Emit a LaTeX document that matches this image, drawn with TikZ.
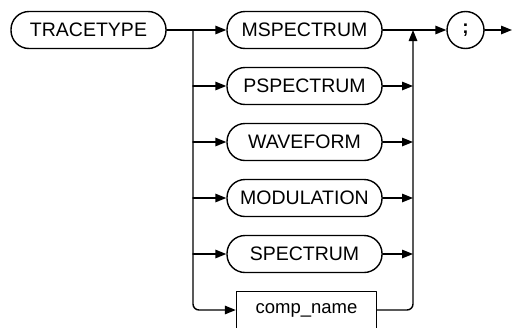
\documentclass[tikz,border=0pt]{standalone}
\usepackage{fontspec}
\setsansfont{Liberation Sans}
\usetikzlibrary{arrows.meta,positioning}

\begin{document}
\begin{tikzpicture}[x=1pt, y=-1pt, line width=1.4pt, line cap=round, line join=round,
    kw/.style={draw, rounded corners=18pt, minimum width=155pt, minimum height=37pt,
      inner sep=0pt, font=\sffamily\fontsize{19.5}{19.5}\selectfont},
    ref/.style={draw, minimum width=140pt, minimum height=37pt, inner sep=0pt,
      font=\sffamily\fontsize{18.5}{18.5}\selectfont},
    sep/.style={draw, circle, minimum size=37pt, inner sep=0pt,
      font=\sffamily\bfseries\fontsize{19}{19}\selectfont},
    flow/.style={-{Triangle[length=11pt,width=8.5pt]}}]
    \useasboundingbox (0,0) rectangle (513,327);

    \node[kw] (trace) at (88.5,30) {TRACETYPE};
    \node[kw] (mspec) at (304.5,30) {MSPECTRUM};
    \node[kw] (pspec) at (304.5,86) {PSPECTRUM};
    \node[kw] (wave)  at (304.5,142) {WAVEFORM};
    \node[kw] (modul) at (304.5,198) {MODULATION};
    \node[kw] (spec)  at (304.5,254) {SPECTRUM};
    \node[ref] (comp) at (306.5,310) {comp\_name};
    \node[sep] (semi) at (465.5,30) {;};

    \coordinate (split) at (193,30);
    \coordinate (join)  at (413,30);
    \coordinate (down)  at (193,310);
    \coordinate (up)    at (413,310);
    \coordinate (stop)  at (512,30);

    % entry and first branch
    \draw[flow] (trace) -- (mspec);
    \draw (mspec) -- (join);
    \draw[flow] (join) -- (semi);
    \draw[flow] (semi) -- (stop);

    % left bus and the other branches
    \draw[flow, rounded corners=6pt] (split) -- (down) -- (comp);
    \foreach \k in {pspec,wave,modul,spec} {
      \draw[flow] (split |- \k) -- (\k);
      \draw[flow] (\k) -- (join |- \k);
    }

    % right bus back up
    \draw[flow, rounded corners=6pt] (comp) -- (up) -- (join);
  \end{tikzpicture}
\end{document}
